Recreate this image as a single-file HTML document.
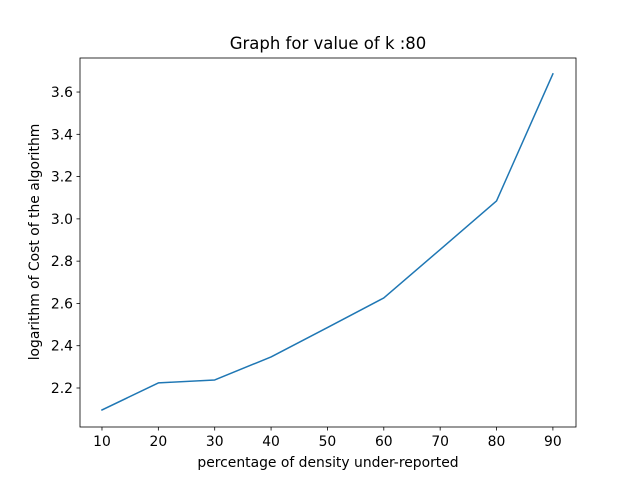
<!DOCTYPE html>
<html><head><meta charset="utf-8"><style>
body{margin:0;background:#fff;}
svg text{font-family:"DejaVu Sans","Liberation Sans",sans-serif;fill:#000;}
</style></head><body>
<svg id="chart" width="640" height="480" xmlns="http://www.w3.org/2000/svg">
<rect width="640" height="480" fill="#fff"/>
<g id="ticks"></g>
<path id="line" fill="none" stroke="#1f77b4" stroke-width="1.5" stroke-linejoin="round" stroke-linecap="square"/>
<rect x="80" y="58" width="496" height="369" fill="none" stroke="#000" stroke-width="0.8"/>
<text x="328" y="49" font-size="16.5" text-anchor="middle">Graph for value of k :80</text>
<text x="328" y="467" font-size="13.9" text-anchor="middle">percentage of density under-reported</text>
<text transform="translate(39,242) rotate(-90)" font-size="13.9" text-anchor="middle">logarithm of Cost of the algorithm</text>
</svg>
<script>
const xValues=[10,20,30,40,50,60,70,80,90];
const yValues=[2.096,2.224,2.238,2.347,2.486,2.626,2.855,3.085,3.686];
const xTicks=[10,20,30,40,50,60,70,80,90];
const yTicks=[2.2,2.4,2.6,2.8,3.0,3.2,3.4,3.6];
const yTickLabels=["2.2","2.4","2.6","2.8","3.0","3.2","3.4","3.6"];
const X0=80,X1=576,Y0=427,Y1=58,xmin=6.1,xmax=94.1,ymin=2.0155,ymax=3.761;
const sx=v=>X0+(v-xmin)/(xmax-xmin)*(X1-X0);
const sy=v=>Y0-(v-ymin)/(ymax-ymin)*(Y0-Y1);
const NS="http://www.w3.org/2000/svg";
const g=document.getElementById('ticks');
function mk(t,a){const e=document.createElementNS(NS,t);for(const k in a)e.setAttribute(k,a[k]);g.appendChild(e);return e;}
xTicks.forEach(v=>{const x=sx(v);
const l=mk('line',{x1:x,x2:x,y1:427,y2:430.5,stroke:'#000','stroke-width':0.8});


const t=mk('text',{x:x,y:446,'font-size':13.9,'text-anchor':'middle'});t.textContent=v;

});
yTicks.forEach((v,i)=>{const y=sy(v);
const l=mk('line',{x1:76.5,x2:80,y1:y,y2:y,stroke:'#000','stroke-width':0.8});


const t=mk('text',{x:73,y:y+5,'font-size':13.9,'text-anchor':'end'});t.textContent=yTickLabels[i];

});
document.getElementById('line').setAttribute('d',xValues.map((v,i)=>(i?'L':'M')+sx(v).toFixed(2)+','+sy(yValues[i]).toFixed(2)).join(''));
</script>
</body></html>
